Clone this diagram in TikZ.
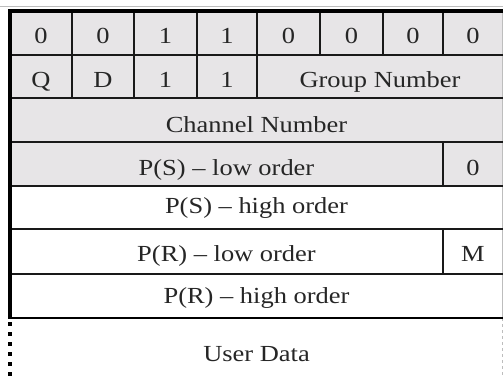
\documentclass[tikz,border=0pt]{standalone}
\usepackage{fontspec}
\setmainfont{Liberation Serif}
\definecolor{hdrfill}{HTML}{E7E5E7}
\definecolor{rimgray}{HTML}{BDBDBD}
\newcommand{\wide}[1]{\scalebox{1.15}[1]{#1}}
\begin{document}
\begin{tikzpicture}[x=1pt,y=-1pt,
  lbl/.style={inner sep=0pt, anchor=base, text=black!85,
              font=\fontsize{23}{27}\selectfont},
  rule/.style={line width=1.8pt, black!90},
  heavy/.style={line width=3.2pt, black},
  dotted edge/.style={line width=4pt, black, dash pattern=on 4pt off 6pt},
  rim/.style={line width=0.9pt, rimgray}]
\useasboundingbox (0,0) rectangle (503,376);
\fill[white] (0,0) rectangle (503,376);

% shaded header rows (bits 0..31)
\fill[hdrfill] (10,11) rectangle (503,186);

% outer rim at the top and right
\draw[rim] (0,6) -- (503,6);
\draw[rim] (502,11) -- (502,318);
\draw[rim, dashed] (502,318) -- (502,376);

% horizontal row separators
\foreach \yy in {55,98,142,186,229,274} \draw[rule] (10,\yy) -- (503,\yy);
\draw[line width=2.6pt] (10,318) -- (503,318);

% vertical separators
\foreach \xx in {72,134,197,257,320,383,443} \draw[rule] (\xx,11) -- (\xx,55);
\foreach \xx in {72,134,197,257} \draw[rule] (\xx,55) -- (\xx,98);
\draw[rule] (443,142) -- (443,186);
\draw[rule] (443,229) -- (443,274);

% frame: top and left edges, dotted continuation for the data field
\draw[heavy] (8.4,11) -- (503,11);
\draw[line width=4pt] (10,9.4) -- (10,319.3);
\draw[dotted edge] (10,322) -- (10,376);

% row 1: format bits
\node[lbl] (b1) at (41,43) {\wide{0}};
\node[lbl] (b2) at (103,43) {\wide{0}};
\node[lbl] (b3) at (165.5,43) {\wide{1}};
\node[lbl] (b4) at (227,43) {\wide{1}};
\node[lbl] (b5) at (288.5,43) {\wide{0}};
\node[lbl] (b6) at (351.5,43) {\wide{0}};
\node[lbl] (b7) at (413,43) {\wide{0}};
\node[lbl] (b8) at (473,43) {\wide{0}};

% row 2
\node[lbl] (q) at (41,87) {\wide{Q}};
\node[lbl] (d) at (103,87) {\wide{D}};
\node[lbl] (m1) at (165.5,87) {\wide{1}};
\node[lbl] (m2) at (227,87) {\wide{1}};
\node[lbl] (grp) at (380,87) {\wide{Group Number}};

% row 3
\node[lbl] (chan) at (256.5,132) {\wide{Channel Number}};

% row 4
\node[lbl] (psl) at (226.5,175) {\wide{P(S) – low order}};
\node[lbl] (zero) at (473,175) {\wide{0}};

% row 5
\node[lbl] (psh) at (256.5,213) {\wide{P(S) – high order}};

% row 6
\node[lbl] (prl) at (226.5,261) {\wide{P(R) – low order}};
\node[lbl] (more) at (473,261) {\wide{M}};

% row 7
\node[lbl] (prh) at (256.5,303) {\wide{P(R) – high order}};

% data field
\node[lbl] (data) at (256.5,361) {\wide{User Data}};
\end{tikzpicture}
\end{document}
